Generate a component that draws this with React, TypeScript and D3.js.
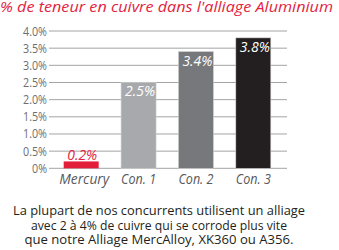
import React from "react";
import * as d3 from "d3";

const categories = ["Mercury", "Con. 1", "Con. 2", "Con. 3"];
const values = [0.2, 2.5, 3.4, 3.8];
const valueLabels = ["0.2%", "2.5%", "3.4%", "3.8%"];
const ticks = [0, 0.5, 1.0, 1.5, 2.0, 2.5, 3.0, 3.5, 4.0];
const tickLabels = ["0%", "0.5%", "1.0%", "1.5%", "2.0%", "2.5%", "3.0%", "3.5%", "4.0%"];
const barColors = ["#e31e3a", "#a7a9ac", "#77787b", "#231f20"];
const title = "% de teneur en cuivre dans l'alliage Aluminium";
const caption = [
  "La plupart de nos concurrents utilisent un alliage",
  "avec 2 à 4% de cuivre qui se corrode plus vite",
  "que notre Alliage MercAlloy, XK360 ou A356.",
];

export default function App() {
  const W = 339, H = 250;
  const y = d3.scaleLinear().domain([0, 4]).range([168.3, 31]);
  const x = d3.scaleBand<string>().domain(categories).range([52.5, 282]).paddingInner(0.39).paddingOuter(0.195);
  const font = "'Open Sans', 'Noto Sans', sans-serif";
  const capWidths = [292, 256, 269];
  const catWidths = [50, 35, 35, 35];
  return (
    <svg width={W} height={H} style={{ position: "absolute", left: 0, top: 0 }} fontFamily={font}>
      <text x={0} y={11.5} fontSize={14} fontStyle="italic" fill="#e4233e" textLength={333} lengthAdjust="spacingAndGlyphs">{title}</text>
      {ticks.map((t, i) => (
        <g key={t}>
          <line x1={49} x2={287} y1={y(t)} y2={y(t)} stroke="#a3a3a3" strokeWidth={1} />
          <text x={47} y={y(t) + 4.5} textAnchor="end" fontSize={12} fill="#6d6e71" textLength={i === 0 ? 15 : 24} lengthAdjust="spacingAndGlyphs">{tickLabels[i]}</text>
        </g>
      ))}
      {categories.map((c, i) => (
        <g key={c}>
          <rect x={x(c)} y={y(values[i])} width={x.bandwidth()} height={y(0) - y(values[i])} fill={barColors[i]}
            stroke={i > 0 ? "#d0d0d0" : "none"} strokeWidth={0.6} />
          {i === 0 ? (
            <text x={(x(c) as number) + x.bandwidth() / 2 + 1} y={y(values[i]) - 1.5} textAnchor="middle" fontSize={14} fontStyle="italic" fill="#e4233e" textLength={30} lengthAdjust="spacingAndGlyphs">{valueLabels[i]}</text>
          ) : (
            <text x={(x(c) as number) + x.bandwidth() - 1} y={y(values[i]) + 14} textAnchor="end" fontSize={14} fontStyle="italic" fill="#ffffff" textLength={30} lengthAdjust="spacingAndGlyphs">{valueLabels[i]}</text>
          )}
          <text x={(x(c) as number) + x.bandwidth() / 2 + (i === 0 ? 3 : 0)} y={184} textAnchor="middle" fontSize={14} fontStyle="italic" fill="#58595b" textLength={catWidths[i]} lengthAdjust="spacingAndGlyphs">{c}</text>
        </g>
      ))}
      {caption.map((line, i) => (
        <text key={i} x={159} y={215 + i * 14.5} textAnchor="middle" fontSize={13.5} fill="#231f20" textLength={capWidths[i]} lengthAdjust="spacingAndGlyphs">{line}</text>
      ))}
    </svg>
  );
}
